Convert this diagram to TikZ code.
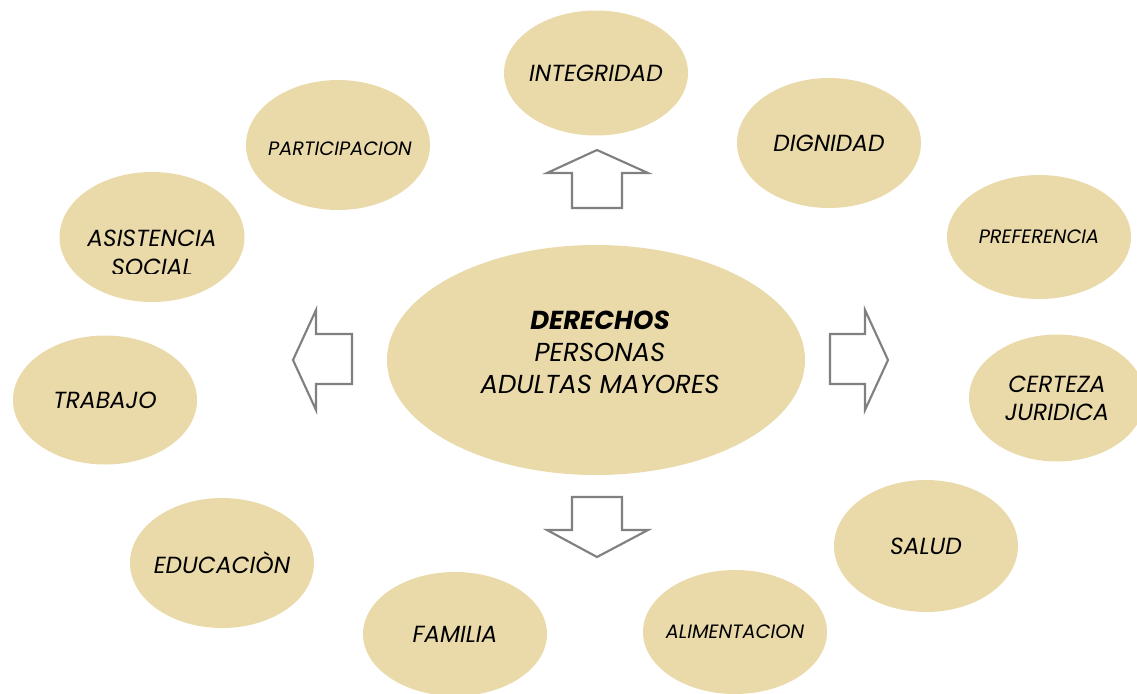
\documentclass[tikz,border=0pt]{standalone}
\usepackage{fontspec}
\setmainfont{Poppins}
\usetikzlibrary{shapes.geometric}
\definecolor{beige}{RGB}{234,218,170}
\definecolor{arrgray}{RGB}{128,128,128}
\tikzset{
  bub/.style={ellipse, fill=beige, draw=none, inner sep=0pt},
  sz/.style 2 args={minimum width=#1*0.75pt, minimum height=#2*0.75pt},
  bigtxt/.style={align=center, inner sep=0pt, font=\itshape\fontsize{17.5}{21}\selectfont},
  smalltxt/.style={align=center, inner sep=0pt, font=\itshape\fontsize{14.5}{17}\selectfont},
  blockarrow/.style={draw=arrgray, line width=1.6pt, fill=white, line join=miter}
}
\begin{document}
\begin{tikzpicture}[x=0.75pt,y=-0.75pt]
\useasboundingbox (0,0) rectangle (1137,693);
\begin{scope}
\clip (0,0) rectangle (1137,693);
\node[bub, sz={418}{230}] (c) at (596,360) {};
\node[font=\fontsize{19.5}{24}\selectfont, align=center] (ct) at (600,352) {\textbf{\textit{DERECHOS}}\\\textit{PERSONAS}\\\textit{ADULTAS MAYORES}};
\node[bub, sz={184}{125}] (integ) at (596,73) {};
\node[bigtxt] (integt) at (integ.center) {INTEGRIDAD};
\node[bub, sz={184}{130}] (dign) at (829,143) {};
\node[bigtxt] (dignt) at (dign.center) {DIGNIDAD};
\node[bub, sz={184}{124}] (pref) at (1039,237) {};
\node[smalltxt] (preft) at (pref.center) {PREFERENCIA};
\node[bub, sz={176}{127}] (cert) at (1057,398) {};
\node[bigtxt] (certt) at (cert.center) {CERTEZA\\JURIDICA};
\node[bub, sz={184}{132}] (salud) at (926,546) {};
\node[bigtxt] (saludt) at (salud.center) {SALUD};
\node[bub, sz={184}{124}] (alim) at (735,632) {};
\node[smalltxt] (alimt) at (alim.center) {ALIMENTACION};
\node[bub, sz={184}{124}] (fam) at (455,634) {};
\node[bigtxt] (famt) at (fam.center) {FAMILIA};
\node[bub, sz={184}{130}] (edu) at (222,563) {};
\node[bigtxt] (edut) at (edu.center) {EDUCACIÒN};
\node[bub, sz={184}{129}] (trab) at (105,400) {};
\node[bigtxt] (trabt) at (trab.center) {TRABAJO};
\node[bub, sz={185}{130}] (asis) at (152,237) {};
\begin{scope}
\clip (40,180) rectangle (260,273);
\node[bigtxt, font=\itshape\fontsize{17.5}{22}\selectfont] (asist) at (152,253) {ASISTENCIA\\SOCIAL};
\end{scope}
\node[bub, sz={184}{130}] (part) at (338,145) {};
\node[smalltxt] (partt) at (340,149) {PARTICIPACION};
\end{scope}
% block arrows
\draw[blockarrow] (597,150) -- (648,173) -- (622,173) -- (622,208) -- (572,208) -- (572,173) -- (547,173) -- cycle;
\draw[blockarrow] (597,557) -- (648,530) -- (622,530) -- (622,497) -- (572,497) -- (572,530) -- (547,530) -- cycle;
\draw[blockarrow] (293,360) -- (316,310) -- (316,334) -- (352,334) -- (352,384) -- (316,384) -- (316,410) -- cycle;
\draw[blockarrow] (888,360) -- (865,310) -- (865,334) -- (830,334) -- (830,384) -- (865,384) -- (865,410) -- cycle;
\end{tikzpicture}
\end{document}
